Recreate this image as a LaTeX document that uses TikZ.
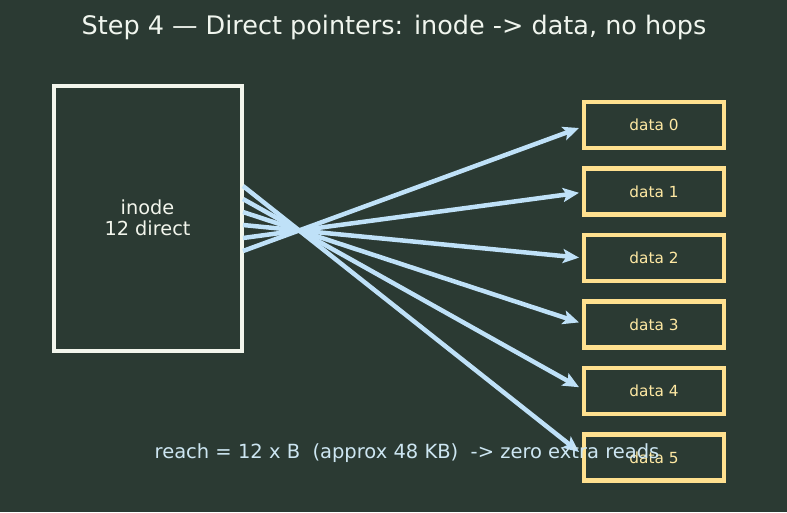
\documentclass[tikz,border=0pt]{standalone}
\usepackage{fontspec}
\setmainfont{DejaVu Sans}
\usetikzlibrary{arrows.meta}
\definecolor{bg}{HTML}{2B3A33}
\definecolor{inodec}{HTML}{F2F5EC}
\definecolor{arrowc}{HTML}{BFE1F8}
\definecolor{databorder}{HTML}{FFE08F}
\definecolor{datatext}{HTML}{FFE9A3}
\definecolor{notec}{HTML}{CDE6F2}
\definecolor{titlec}{HTML}{F0F5EE}
\tikzset{
  inodebox/.style={draw=inodec, line width=4pt, minimum width=188pt, minimum height=265pt, inner sep=0pt,
    text=inodec, font=\fontsize{19.3}{21}\selectfont, align=center},
  databox/.style={draw=databorder, line width=4.5pt, minimum width=140pt, minimum height=46pt, inner sep=0pt,
    text=datatext, font=\fontsize{15.3}{18}\selectfont},
  ptr/.style={draw=arrowc, line width=4.5pt, -{Stealth[length=16pt,width=14pt,inset=3.5pt]}},
}
\begin{document}
\begin{tikzpicture}[x=1pt,y=-1pt]
\fill[bg] (0,0) rectangle (787,512);
\useasboundingbox (0,0) rectangle (787,512);
\node[text=titlec, font=\fontsize{25.5}{28}\selectfont] (title) at (394,27) {Step 4 — Direct pointers: inode -> data, no hops};
\node[inodebox] (inode) at (147.5,218) {inode\\12 direct};
\foreach \i in {0,...,5} {
  \node[databox] (d\i) at (654,125+66.5*\i) {data \i};
}
\foreach \i in {0,...,5} {
  \coordinate (s\i) at (243,186+13*\i);
  \coordinate (e\i) at (579,128+64.8*\i);
}
\foreach \i/\j in {0/5,1/4,2/3,3/2,4/1,5/0} {
  \draw[ptr] (s\i) -- (e\j);
}
\node[text=notec, font=\fontsize{19.5}{22}\selectfont] (note) at (407,453) {reach = 12 x B \ (approx 48 KB) \ -> zero extra reads};
\end{tikzpicture}
\end{document}
